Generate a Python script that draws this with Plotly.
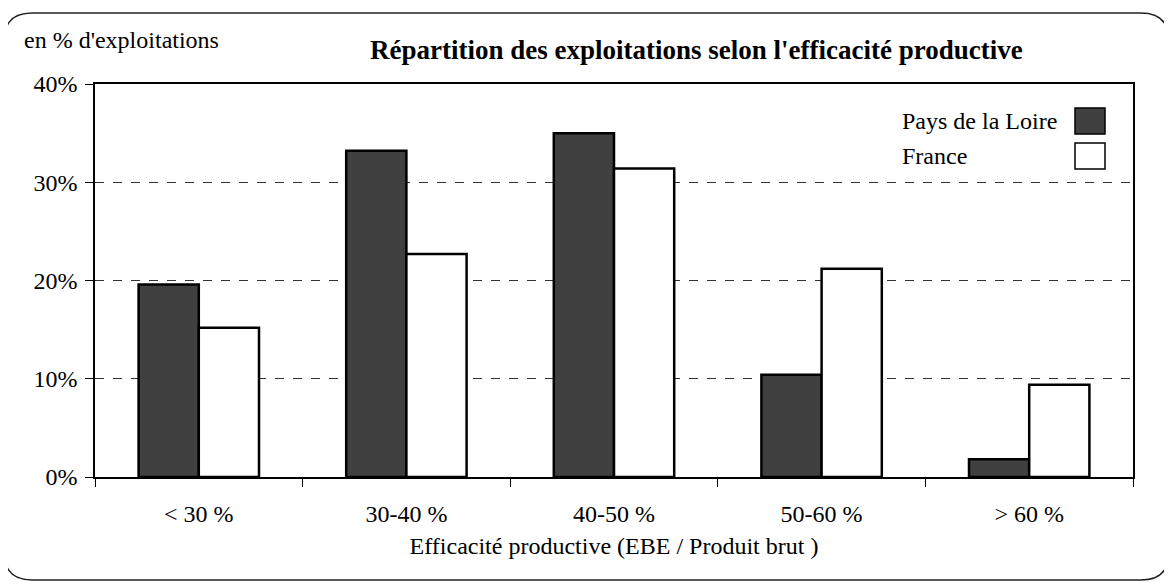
import plotly.graph_objects as go

categories = ["< 30 %", "30-40 %", "40-50 %", "50-60 %", "> 60 %"]
pays_de_la_loire = [19.6, 33.2, 35.0, 10.4, 1.8]
france = [15.2, 22.7, 31.4, 21.2, 9.4]
series_names = ["Pays de la Loire", "France"]
y_ticks = [0, 10, 20, 30, 40]
y_tick_labels = ["0%", "10%", "20%", "30%", "40%"]

OFF = 8  # page body margin offset
W, H = 1172 - OFF, 585 - OFF
ML, MR, MT, MB = 95 - OFF, 39, 84 - OFF, 108
PW, PH = W - ML - MR, H - MT - MB

def px(x):
    return (x - OFF - ML) / PW

def py(y):
    return (H - MB - (y - OFF)) / PH

FONT = "Liberation Serif"

fig = go.Figure()
fig.add_trace(go.Bar(x=categories, y=pays_de_la_loire, name=series_names[0],
                     marker=dict(color="#404040", line=dict(color="black", width=2.5))))
fig.add_trace(go.Bar(x=categories, y=france, name=series_names[1],
                     marker=dict(color="white", line=dict(color="black", width=2.5))))

# outer rounded frame
x0, x1, y0, y1, r = 4, 1169, 13, 580, 28
pts = (f"M {px(x0+r)},{py(y0)} L {px(x1-r)},{py(y0)} Q {px(x1)},{py(y0)} {px(x1)},{py(y0+r)} "
       f"L {px(x1)},{py(y1-r)} Q {px(x1)},{py(y1)} {px(x1-r)},{py(y1)} "
       f"L {px(x0+r)},{py(y1)} Q {px(x0)},{py(y1)} {px(x0)},{py(y1-r)} "
       f"L {px(x0)},{py(y0+r)} Q {px(x0)},{py(y0)} {px(x0+r)},{py(y0)} Z")
shapes = [dict(type="path", path=pts, xref="paper", yref="paper",
               line=dict(color="#222", width=1.5), layer="below")]

# custom legend (text left, swatch right)
legend_fills = ["#404040", "white"]
legend_rows = [(108, 134), (143, 169)]
annotations = []
for name, fill, (ya, yb) in zip(series_names, legend_fills, legend_rows):
    shapes.append(dict(type="rect", xref="paper", yref="paper",
                       x0=px(1075), x1=px(1105), y0=py(yb), y1=py(ya),
                       fillcolor=fill, line=dict(color="black", width=1.5)))
    annotations.append(dict(text=name, xref="paper", yref="paper", x=px(900), y=py((ya + yb) / 2),
                            xanchor="left", yanchor="middle", showarrow=False,
                            font=dict(family=FONT, size=24, color="black")))

annotations.append(dict(text="<b>Répartition des exploitations selon l'efficacité productive</b>",
                        xref="paper", yref="paper", x=px(696), y=py(50), xanchor="center",
                        yanchor="middle", showarrow=False,
                        font=dict(family=FONT, size=27, color="black")))
annotations.append(dict(text="en % d'exploitations", xref="paper", yref="paper",
                        x=px(22), y=py(40), xanchor="left", yanchor="middle", showarrow=False,
                        font=dict(family=FONT, size=24, color="black")))

fig.update_layout(
    width=W, height=H,
    margin=dict(l=ML, r=MR, t=MT, b=MB),
    paper_bgcolor="white", plot_bgcolor="white",
    barmode="group", bargap=0.42, bargroupgap=0,
    showlegend=False,
    font=dict(family=FONT, size=24, color="black"),
    shapes=shapes, annotations=annotations,
)
fig.update_xaxes(type="category", showline=True, linecolor="black", linewidth=1.5, mirror=True,
                 ticks="outside", tickson="boundaries", ticklen=8, tickcolor="black",
                 ticklabelstandoff=14, showgrid=False,
                 title=dict(text="Efficacité productive (EBE / Produit brut )", standoff=12,
                            font=dict(family=FONT, size=24)))
fig.update_yaxes(range=[0, 40], tickvals=y_ticks, ticktext=y_tick_labels,
                 showline=True, linecolor="black", linewidth=1.5, mirror=True,
                 ticks="outside", ticklen=8, tickcolor="black", ticklabelstandoff=3,
                 showgrid=True, gridcolor="#333", gridwidth=1, griddash="dash",
                 zeroline=False)

fig.write_html("out.html")
